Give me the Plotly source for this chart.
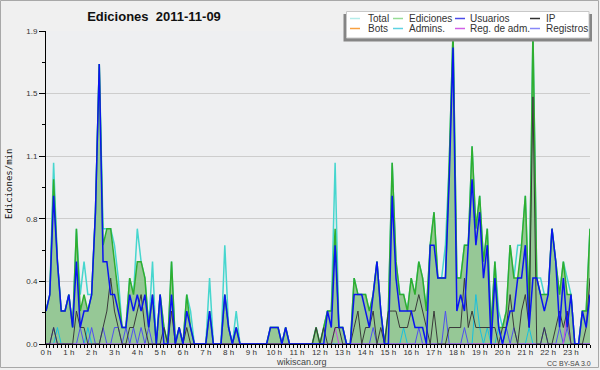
import plotly.graph_objects as go
import numpy as np

# ---------------- data (edits per minute, 10-minute buckets, 2011-11-09) ----------------
series_names = ["Total", "Ediciones", "Usuarios", "IP", "Bots", "Admins.", "Reg. de adm.", "Registros"]

total = [
    0.2, 0.3, 1.1, 0.5, 0.2, 0.2,
    0.3, 0.1, 0.7, 0.3, 0.5, 0.3,
    0.3, 0.8, 1.7, 0.7, 0.7, 0.7,
    0.6, 0.4, 0.1, 0.1, 0.4, 0.3,
    0.7, 0.5, 0.4, 0.1, 0.5, 0.0,
    0.3, 0.1, 0.0, 0.5, 0.0, 0.1,
    0.0, 0.3, 0.2, 0.0, 0.0, 0.0,
    0.0, 0.4, 0.0, 0.0, 0.0, 0.6,
    0.1, 0.0, 0.2, 0.0, 0.0, 0.0,
    0.0, 0.0, 0.0, 0.0, 0.0, 0.1,
    0.1, 0.1, 0.0, 0.1, 0.0, 0.0,
    0.0, 0.0, 0.0, 0.0, 0.0, 0.1,
    0.0, 0.1, 0.2, 0.2, 1.1, 0.1,
    0.1, 0.0, 0.0, 0.4, 0.3, 0.3,
    0.3, 0.2, 0.3, 0.5, 0.2, 0.0,
    0.2, 1.1, 0.5, 0.3, 0.3, 0.2,
    0.4, 0.3, 0.5, 0.4, 0.2, 0.6,
    0.8, 0.4, 0.4, 0.6, 1.1, 1.9,
    0.4, 0.4, 0.6, 0.6, 1.2, 0.7,
    0.9, 0.5, 0.7, 0.1, 0.5, 0.2,
    0.1, 0.2, 0.6, 0.4, 0.6, 0.6,
    0.9, 0.2, 1.9, 0.4, 0.4, 0.3,
    0.3, 0.7, 0.5, 0.3, 0.5, 0.4,
    0.3, 0.0, 0.0, 0.2, 0.2, 0.7,
]

ediciones = [
    0.2, 0.3, 1.0, 0.5, 0.2, 0.2,
    0.3, 0.1, 0.7, 0.2, 0.3, 0.2,
    0.3, 0.8, 1.7, 0.6, 0.7, 0.7,
    0.5, 0.3, 0.1, 0.1, 0.4, 0.3,
    0.5, 0.5, 0.4, 0.1, 0.3, 0.0,
    0.3, 0.1, 0.0, 0.5, 0.0, 0.1,
    0.0, 0.3, 0.1, 0.0, 0.0, 0.0,
    0.0, 0.2, 0.0, 0.0, 0.0, 0.3,
    0.1, 0.0, 0.1, 0.0, 0.0, 0.0,
    0.0, 0.0, 0.0, 0.0, 0.0, 0.1,
    0.1, 0.1, 0.0, 0.1, 0.0, 0.0,
    0.0, 0.0, 0.0, 0.0, 0.0, 0.1,
    0.0, 0.1, 0.2, 0.2, 0.7, 0.1,
    0.1, 0.0, 0.0, 0.4, 0.3, 0.3,
    0.3, 0.2, 0.3, 0.5, 0.2, 0.0,
    0.2, 1.1, 0.5, 0.3, 0.3, 0.2,
    0.4, 0.3, 0.5, 0.4, 0.2, 0.6,
    0.8, 0.4, 0.4, 0.4, 1.1, 1.9,
    0.4, 0.4, 0.6, 0.6, 1.2, 0.7,
    0.9, 0.5, 0.7, 0.1, 0.5, 0.1,
    0.1, 0.2, 0.6, 0.4, 0.4, 0.6,
    0.9, 0.2, 1.9, 0.4, 0.3, 0.3,
    0.3, 0.7, 0.5, 0.3, 0.5, 0.3,
    0.3, 0.0, 0.0, 0.2, 0.2, 0.7,
]

usuarios = [
    0.2, 0.3, 0.9, 0.5, 0.2, 0.2,
    0.3, 0.1, 0.5, 0.1, 0.2, 0.2,
    0.3, 0.8, 1.7, 0.5, 0.5, 0.3,
    0.3, 0.2, 0.1, 0.1, 0.3, 0.2,
    0.3, 0.2, 0.3, 0.1, 0.3, 0.0,
    0.3, 0.0, 0.0, 0.3, 0.0, 0.1,
    0.0, 0.2, 0.1, 0.0, 0.0, 0.0,
    0.0, 0.2, 0.0, 0.0, 0.0, 0.3,
    0.1, 0.0, 0.1, 0.0, 0.0, 0.0,
    0.0, 0.0, 0.0, 0.0, 0.0, 0.1,
    0.1, 0.1, 0.0, 0.1, 0.0, 0.0,
    0.0, 0.0, 0.0, 0.0, 0.0, 0.0,
    0.0, 0.0, 0.2, 0.1, 0.6, 0.1,
    0.1, 0.0, 0.0, 0.3, 0.3, 0.3,
    0.2, 0.1, 0.3, 0.5, 0.2, 0.0,
    0.0, 0.9, 0.4, 0.2, 0.2, 0.2,
    0.2, 0.1, 0.1, 0.1, 0.0, 0.6,
    0.6, 0.4, 0.4, 0.4, 1.0, 1.8,
    0.2, 0.3, 0.2, 0.6, 1.0, 0.6,
    0.8, 0.4, 0.6, 0.0, 0.4, 0.1,
    0.0, 0.1, 0.2, 0.2, 0.4, 0.4,
    0.6, 0.1, 0.4, 0.4, 0.3, 0.2,
    0.3, 0.7, 0.5, 0.1, 0.4, 0.1,
    0.3, 0.0, 0.0, 0.2, 0.1, 0.3,
]

ip = [
    0.0, 0.0, 0.1, 0.0, 0.0, 0.0,
    0.0, 0.0, 0.2, 0.1, 0.1, 0.0,
    0.0, 0.0, 0.0, 0.1, 0.2, 0.4,
    0.2, 0.1, 0.0, 0.0, 0.1, 0.1,
    0.2, 0.3, 0.1, 0.0, 0.0, 0.0,
    0.0, 0.1, 0.0, 0.2, 0.0, 0.0,
    0.0, 0.1, 0.0, 0.0, 0.0, 0.0,
    0.0, 0.0, 0.0, 0.0, 0.0, 0.0,
    0.0, 0.0, 0.0, 0.0, 0.0, 0.0,
    0.0, 0.0, 0.0, 0.0, 0.0, 0.0,
    0.0, 0.0, 0.0, 0.0, 0.0, 0.0,
    0.0, 0.0, 0.0, 0.0, 0.0, 0.1,
    0.0, 0.1, 0.0, 0.0, 0.1, 0.1,
    0.0, 0.0, 0.0, 0.1, 0.2, 0.0,
    0.1, 0.1, 0.2, 0.0, 0.1, 0.0,
    0.2, 0.2, 0.2, 0.1, 0.1, 0.1,
    0.2, 0.2, 0.3, 0.2, 0.1, 0.0,
    0.2, 0.0, 0.0, 0.0, 0.1, 0.1,
    0.1, 0.1, 0.4, 0.1, 0.2, 0.1,
    0.1, 0.1, 0.1, 0.1, 0.1, 0.0,
    0.1, 0.1, 0.3, 0.1, 0.0, 0.2,
    0.3, 0.1, 1.5, 0.0, 0.0, 0.1,
    0.0, 0.0, 0.1, 0.2, 0.1, 0.2,
    0.0, 0.0, 0.0, 0.0, 0.1, 0.4,
]

bots = [0.0] * 144

admins = [
    0.0, 0.0, 0.0, 0.1, 0.0, 0.0,
    0.0, 0.0, 0.0, 0.0, 0.0, 0.1,
    0.0, 0.0, 0.0, 0.0, 0.0, 0.0,
    0.0, 0.0, 0.0, 0.0, 0.0, 0.0,
    0.0, 0.0, 0.0, 0.0, 0.0, 0.0,
    0.0, 0.0, 0.0, 0.0, 0.0, 0.0,
    0.0, 0.0, 0.0, 0.0, 0.0, 0.0,
    0.0, 0.0, 0.0, 0.0, 0.0, 0.0,
    0.0, 0.0, 0.0, 0.0, 0.0, 0.0,
    0.0, 0.0, 0.0, 0.0, 0.0, 0.0,
    0.0, 0.0, 0.0, 0.0, 0.0, 0.0,
    0.0, 0.0, 0.0, 0.0, 0.0, 0.0,
    0.0, 0.0, 0.0, 0.0, 0.0, 0.0,
    0.0, 0.0, 0.0, 0.0, 0.0, 0.0,
    0.0, 0.0, 0.0, 0.0, 0.0, 0.0,
    0.0, 0.0, 0.0, 0.0, 0.1, 0.0,
    0.0, 0.0, 0.0, 0.0, 0.0, 0.0,
    0.0, 0.0, 0.0, 0.0, 0.0, 0.0,
    0.0, 0.0, 0.0, 0.0, 0.0, 0.3,
    0.1, 0.0, 0.1, 0.0, 0.0, 0.1,
    0.0, 0.0, 0.0, 0.0, 0.0, 0.0,
    0.0, 0.1, 0.0, 0.0, 0.0, 0.0,
    0.0, 0.0, 0.0, 0.0, 0.0, 0.0,
    0.0, 0.0, 0.0, 0.0, 0.0, 0.0,
]

reg_adm = [0.0] * 76 + [0.1] + [0.0] * 60 + [0.2] + [0.0] * 6

registros = [
    0.0, 0.0, 0.1, 0.0, 0.0, 0.0,
    0.0, 0.0, 0.0, 0.1, 0.0, 0.0,
    0.1, 0.0, 0.0, 0.1, 0.0, 0.0,
    0.1, 0.1, 0.0, 0.1, 0.0, 0.1,
    0.0, 0.1, 0.0, 0.1, 0.0, 0.0,
    0.0, 0.0, 0.0, 0.0, 0.0, 0.0,
    0.0, 0.0, 0.0, 0.0, 0.0, 0.0,
    0.0, 0.0, 0.0, 0.0, 0.0, 0.0,
    0.0, 0.0, 0.0, 0.0, 0.0, 0.0,
    0.0, 0.0, 0.0, 0.0, 0.0, 0.0,
    0.0, 0.0, 0.0, 0.0, 0.0, 0.0,
    0.0, 0.0, 0.0, 0.0, 0.0, 0.0,
    0.0, 0.0, 0.0, 0.0, 0.0, 0.0,
    0.0, 0.0, 0.0, 0.0, 0.0, 0.0,
    0.0, 0.0, 0.1, 0.0, 0.0, 0.0,
    0.0, 0.0, 0.0, 0.0, 0.0, 0.0,
    0.0, 0.0, 0.1, 0.0, 0.0, 0.0,
    0.0, 0.0, 0.0, 0.2, 0.0, 0.0,
    0.0, 0.0, 0.1, 0.0, 0.0, 0.0,
    0.0, 0.0, 0.0, 0.0, 0.0, 0.0,
    0.0, 0.1, 0.0, 0.1, 0.0, 0.0,
    0.0, 0.0, 0.0, 0.0, 0.0, 0.1,
    0.0, 0.0, 0.0, 0.1, 0.0, 0.1,
    0.0, 0.0, 0.0, 0.0, 0.0, 0.0,
]

hour_labels = [f"{h} h" for h in range(24)]
y_tick_labels = ["0.0", "0.4", "0.8", "1.1", "1.5", "1.9"]
y_max = 1.9

# ---------------- figure ----------------
W, H = 600, 370
ML, MR, MT, MB = 46, 10, 31, 26
PW, PH = W - ML - MR, H - MT - MB

def px(x):
    return (x - ML) / PW

def py(y):
    return (H - MB - y) / PH

slots = np.arange(len(total)) / 6.0  # hours

colors = {
    "Total": "#46d6ce",
    "Ediciones": "#2fae2f",
    "Usuarios": "#0a14f0",
    "IP": "#3a3a3a",
    "Bots": "#ff9933",
    "Admins.": "#18c0e0",
    "Reg. de adm.": "#c84ee0",
    "Registros": "#5050f0",
}
legend_colors = {
    "Total": "#b4ecea",
    "Ediciones": "#96dc96",
    "Usuarios": "#4a4ae8",
    "IP": "#303030",
    "Bots": "#f8a040",
    "Admins.": "#5ed2e2",
    "Reg. de adm.": "#d060e6",
    "Registros": "#8888f8",
}

fig = go.Figure()
fig.add_trace(go.Scatter(x=slots, y=total, name="Total", mode="lines",
                         line=dict(color=colors["Total"], width=1.5)))
fig.add_trace(go.Scatter(x=slots, y=ediciones, name="Ediciones", mode="lines",
                         fill="tozeroy", fillcolor="#96c896",
                         line=dict(color=colors["Ediciones"], width=1.5)))
fig.add_trace(go.Scatter(x=slots, y=bots, name="Bots", mode="lines",
                         line=dict(color=colors["Bots"], width=1)))
fig.add_trace(go.Scatter(x=slots, y=admins, name="Admins.", mode="lines",
                         line=dict(color=colors["Admins."], width=1)))
fig.add_trace(go.Scatter(x=slots, y=registros, name="Registros", mode="lines",
                         line=dict(color=colors["Registros"], width=1)))
fig.add_trace(go.Scatter(x=slots, y=reg_adm, name="Reg. de adm.", mode="lines",
                         line=dict(color=colors["Reg. de adm."], width=1)))
fig.add_trace(go.Scatter(x=slots, y=ip, name="IP", mode="lines",
                         line=dict(color=colors["IP"], width=1)))
fig.add_trace(go.Scatter(x=slots, y=usuarios, name="Usuarios", mode="lines",
                         line=dict(color=colors["Usuarios"], width=1.5)))

tick_font = dict(family="Liberation Sans, Arial, sans-serif", size=8, color="#333333")

fig.update_layout(
    width=W, height=H,
    margin=dict(l=ML, r=MR, t=MT, b=MB, pad=0),
    paper_bgcolor="#f0f0f0",
    plot_bgcolor="#eeeff1",
    showlegend=False,
    title=dict(text="Ediciones  2011-11-09", x=154 / W, xanchor="center",
               y=1 - 16 / H, yanchor="middle",
               font=dict(family="Liberation Sans, Arial, sans-serif", size=13, color="#111111",
                         weight="bold")),
    xaxis=dict(range=[0, slots[-1]], tickmode="array", tickvals=list(range(24)),
               ticktext=hour_labels, ticks="outside", ticklen=3, tickcolor="black",
               ticklabelstandoff=-3,
               showline=True, linecolor="black", linewidth=1, showgrid=False,
               zeroline=False, tickfont=tick_font,
               minor=dict(tickmode="linear", tick0=0, dtick=1 / 6, ticks="outside",
                          ticklen=3, tickcolor="black", showgrid=False)),
    yaxis=dict(range=[0, y_max], tickmode="array",
               tickvals=list(np.linspace(0, y_max, len(y_tick_labels))),
               ticktext=y_tick_labels, ticks="outside", ticklen=6, tickcolor="black",
               showline=True, linecolor="black", linewidth=1, showgrid=True,
               gridcolor="#cdcdcd", gridwidth=1, zeroline=False, tickfont=tick_font,
               minor=dict(tickmode="linear", tick0=0, dtick=y_max / 10, ticks="outside",
                          ticklen=3, tickcolor="black", showgrid=False)),
)

shapes = []
annotations = []

# outer frame
shapes.append(dict(type="rect", xref="paper", yref="paper",
                   x0=px(0.5), x1=px(598.5), y0=py(367.5), y1=py(0.5),
                   line=dict(color="#a8a8a8", width=1), fillcolor="rgba(0,0,0,0)", layer="above"))

# legend box with shadow
shapes.append(dict(type="rect", xref="paper", yref="paper",
                   x0=px(343.5), x1=px(592), y0=py(41.5), y1=py(14),
                   line=dict(width=0), fillcolor="#858585", layer="above"))
shapes.append(dict(type="rect", xref="paper", yref="paper",
                   x0=px(346.5), x1=px(589), y0=py(38), y1=py(11.5),
                   line=dict(color="#c8c8c8", width=1), fillcolor="#ffffff", layer="above"))

legend_rows = [["Total", "Ediciones", "Usuarios", "IP"],
               ["Bots", "Admins.", "Reg. de adm.", "Registros"]]
col_swatch_x = [350, 393, 455, 530]
col_text_x = [366, 407, 468, 544]
row_y = [18.5, 28.5]
for r, row in enumerate(legend_rows):
    for c, name in enumerate(row):
        shapes.append(dict(type="line", xref="paper", yref="paper",
                           x0=px(col_swatch_x[c]), x1=px(col_swatch_x[c] + 10),
                           y0=py(row_y[r]), y1=py(row_y[r]),
                           line=dict(color=legend_colors[name], width=1.5), layer="above"))
        annotations.append(dict(text=name, xref="paper", yref="paper",
                                x=px(col_text_x[c]), y=py(row_y[r]),
                                xanchor="left", yanchor="middle", showarrow=False,
                                font=dict(family="Liberation Sans, Arial, sans-serif",
                                          size=10, color="#333333")))

# axis title and credits
annotations.append(dict(text="Ediciones/min", xref="paper", yref="paper",
                        x=px(9), y=py(184), xanchor="center", yanchor="middle",
                        textangle=-90, showarrow=False,
                        font=dict(family="DejaVu Sans Mono, monospace", size=9, color="#111111")))
annotations.append(dict(text="wikiscan.org", xref="paper", yref="paper",
                        x=px(301), y=py(362), xanchor="center", yanchor="middle",
                        showarrow=False,
                        font=dict(family="Liberation Sans, Arial, sans-serif", size=9, color="#444444")))
annotations.append(dict(text="CC BY-SA 3.0", xref="paper", yref="paper",
                        x=px(569), y=py(363), xanchor="center", yanchor="middle",
                        showarrow=False,
                        font=dict(family="Liberation Sans, Arial, sans-serif", size=7, color="#444444")))

fig.update_layout(shapes=shapes, annotations=annotations)

# remove the default 8px page margin so the 600x370 figure fills the window exactly
fig.write_html("out.html", config={"displayModeBar": False},
               post_script="document.body.style.margin='0';document.body.style.overflow='hidden';")
